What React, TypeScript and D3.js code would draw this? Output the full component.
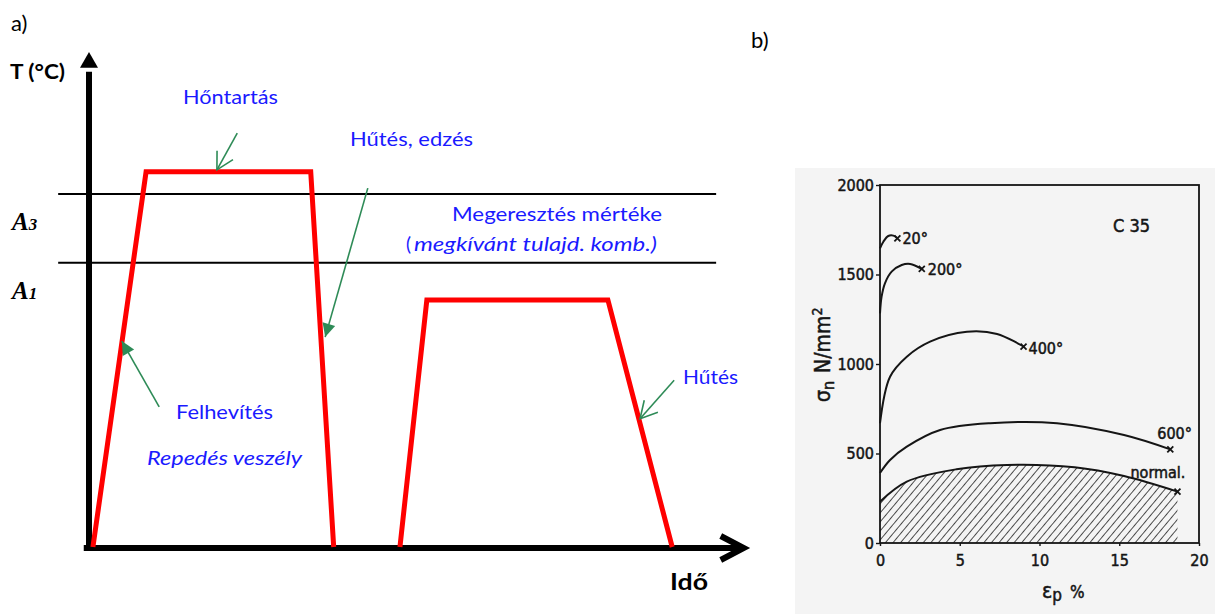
import * as d3 from "d3";
import { useEffect, useRef } from "react";

// panel a: schematic heat-treatment cycle (time / temperature, relative units 0-100)
const quenchCycle = [
  { t: 0.6, T: 0 },
  { t: 8.7, T: 75.8 },
  { t: 33.8, T: 75.8 },
  { t: 37.3, T: 0 },
];
const temperCycle = [
  { t: 47.4, T: 0 },
  { t: 51.5, T: 49.9 },
  { t: 79.1, T: 49.9 },
  { t: 88.9, T: 0 },
];
const criticalTemps = [
  { name: "A", sub: "3", T: 71.3 },
  { name: "A", sub: "1", T: 57.4 },
];
const criticalSpan = [-4.7, 95.6];
const pointers = [
  { from: [22.6, 83.6], to: [19.5, 76.2], head: "open" },
  { from: [42.5, 72.5], to: [36.0, 42.4], head: "filled" },
  { from: [10.7, 28.3], to: [5.0, 41.6], head: "filled" },
  { from: [89.2, 33.7], to: [84.0, 25.9], head: "open" },
];
const labelsA = [
  "Hőntartás",
  "Hűtés, edzés",
  "Megeresztés mértéke",
  "megkívánt tulajd. komb.)",
  "Felhevítés",
  "Repedés veszély",
  "Hűtés",
];

// panel b: C 35 steel, sigma_n vs eps_p for tempering temperatures
const strainTicks = [0, 5, 10, 15, 20];
const stressTicks = [0, 500, 1000, 1500, 2000];
const curve20 = [[0, 1646], [0.21, 1683], [0.52, 1715], [0.84, 1717], [1.09, 1702]];
const curve200 = [[0, 1283], [0.1, 1376], [0.31, 1451], [0.73, 1516], [1.36, 1553], [1.89, 1559], [2.62, 1531]];
const curve400 = [[0, 669], [0.63, 929], [1.68, 1041], [3.14, 1125], [5.45, 1180], [7.34, 1168], [9.0, 1097]];
const curve600 = [[0, 391], [0.63, 464], [1.68, 538], [3.77, 631], [6.9, 669], [11.1, 669], [15.3, 603], [18.2, 523]];
const curveNormal = [[0, 231], [1.68, 343], [4.8, 412], [7.97, 436], [12.2, 423], [15.3, 374], [18.65, 287]];
const seriesLabels = ["20°", "200°", "400°", "600°", "normal."];

export default function App() {
  const ref = useRef<SVGSVGElement>(null);

  useEffect(() => {
    const svg = d3.select(ref.current);
    svg.selectAll("*").remove();

    const blue = "#1a1aff";
    const green = "#2e8b57";
    const red = "#ff0000";
    const sans = "Lato, 'Open Sans', sans-serif";

    // ---------- panel a ----------
    const xA = d3.scaleLinear().domain([0, 100]).range([89, 745]);
    const yA = d3.scaleLinear().domain([0, 100]).range([547, 52]);

    svg.append("text").attr("x", 11).attr("y", 31).attr("font-family", sans)
      .attr("font-size", 22).text("a)");
    svg.append("text").attr("x", 751).attr("y", 48).attr("font-family", sans)
      .attr("font-size", 22).text("b)");

    // critical temperature lines
    svg.append("g").selectAll("line").data(criticalTemps).join("line")
      .attr("x1", xA(criticalSpan[0])).attr("x2", xA(criticalSpan[1]))
      .attr("y1", d => yA(d.T)).attr("y2", d => yA(d.T))
      .attr("stroke", "#000").attr("stroke-width", 2);

    const crit = svg.append("g").selectAll("text").data(criticalTemps).join("text")
      .attr("x", 12).attr("y", d => yA(d.T) + 36)
      .attr("font-family", "'Liberation Serif', 'DejaVu Serif', serif")
      .attr("font-weight", "bold").attr("font-style", "italic").attr("font-size", 25);
    crit.append("tspan").text(d => d.name);
    crit.append("tspan").attr("font-size", 17).text(d => d.sub);

    // axes
    svg.append("line").attr("x1", xA(0)).attr("x2", xA(0))
      .attr("y1", yA(0) + 3).attr("y2", yA(96))
      .attr("stroke", "#000").attr("stroke-width", 6);
    svg.append("path")
      .attr("d", `M${xA(0) - 9},${yA(96.8)}L${xA(0)},${yA(100)}L${xA(0) + 9},${yA(96.8)}Z`)
      .attr("fill", "#000");
    svg.append("line").attr("x1", xA(-0.8)).attr("x2", xA(99.6))
      .attr("y1", yA(0) + 1).attr("y2", yA(0) + 1)
      .attr("stroke", "#000").attr("stroke-width", 6);
    svg.append("path")
      .attr("d", `M${xA(96.3)},${yA(0) - 11}L${xA(99.8)},${yA(0) + 1}L${xA(96.3)},${yA(0) + 13}`)
      .attr("fill", "none").attr("stroke", "#000").attr("stroke-width", 6);

    svg.append("text").attr("x", 10).attr("y", 79).attr("font-family", sans)
      .attr("font-weight", "bold").attr("font-size", 20)
      .attr("textLength", 55).attr("lengthAdjust", "spacingAndGlyphs").text("T (°C)");
    svg.append("text").attr("x", 670).attr("y", 590).attr("font-family", sans)
      .attr("font-weight", "bold").attr("font-size", 22)
      .attr("textLength", 38).attr("lengthAdjust", "spacingAndGlyphs").text("Idő");

    // heat treatment path
    const lineA = d3.line<{ t: number; T: number }>().x(d => xA(d.t)).y(d => yA(d.T));
    svg.append("g").selectAll("path").data([quenchCycle, temperCycle]).join("path")
      .attr("d", d => lineA(d))
      .attr("fill", "none").attr("stroke", red).attr("stroke-width", 5)
      .attr("stroke-linejoin", "miter");

    // pointer arrows
    const arrows = svg.append("g");
    pointers.forEach(p => {
      const x1 = xA(p.from[0]), y1 = yA(p.from[1]);
      const x2 = xA(p.to[0]), y2 = yA(p.to[1]);
      const ang = Math.atan2(y1 - y2, x1 - x2);
      const len = p.head === "open" ? 19 : 15;
      const spread = p.head === "open" ? 0.5 : 0.45;
      const ax = x2 + len * Math.cos(ang - spread), ay = y2 + len * Math.sin(ang - spread);
      const bx = x2 + len * Math.cos(ang + spread), by = y2 + len * Math.sin(ang + spread);
      arrows.append("line").attr("x1", x1).attr("y1", y1).attr("x2", x2).attr("y2", y2)
        .attr("stroke", green).attr("stroke-width", 1.6);
      if (p.head === "open") {
        arrows.append("path").attr("d", `M${ax},${ay}L${x2},${y2}L${bx},${by}`)
          .attr("fill", "none").attr("stroke", green).attr("stroke-width", 1.6);
      } else {
        arrows.append("path").attr("d", `M${ax},${ay}L${x2},${y2}L${bx},${by}Z`)
          .attr("fill", green);
      }
    });

    // blue labels
    const spots = [
      { x: 183, y: 104, w: 95 },
      { x: 350, y: 146, w: 123 },
      { x: 452, y: 221, w: 210 },
      { x: 414, y: 251, w: 243 },
      { x: 176, y: 419, w: 97 },
      { x: 147, y: 465, w: 155 },
      { x: 683, y: 384, w: 55 },
    ];
    labelsA.forEach((txt, i) => {
      const s = spots[i];
      svg.append("text").attr("x", s.x).attr("y", s.y)
        .attr("font-family", sans).attr("font-size", 19).attr("fill", blue)
        .attr("font-style", i === 3 || i === 5 ? "italic" : "normal")
        .attr("textLength", s.w).attr("lengthAdjust", "spacingAndGlyphs")
        .text(txt);
    });
    svg.append("text").attr("x", 406).attr("y", 251).attr("font-family", sans)
      .attr("font-size", 19).attr("fill", blue).text("(");

    // ---------- panel b ----------
    const xB = d3.scaleLinear().domain([0, 20]).range([880, 1199]);
    const yB = d3.scaleLinear().domain([0, 2000]).range([543, 185]);
    const scan = "'DejaVu Sans Condensed', 'DejaVu Sans', sans-serif";
    const ink = "#151515";

    svg.append("rect").attr("x", 795).attr("y", 168).attr("width", 420).attr("height", 446)
      .attr("fill", "#f4f4f4");

    const defs = svg.append("defs");
    const pat = defs.append("pattern").attr("id", "hatch")
      .attr("patternUnits", "userSpaceOnUse").attr("width", 5.8).attr("height", 10)
      .attr("patternTransform", "rotate(40)");
    pat.append("line").attr("x1", 0).attr("y1", 0).attr("x2", 0).attr("y2", 10)
      .attr("stroke", ink).attr("stroke-width", 1.5);

    const area = d3.area<number[]>().x(d => xB(d[0])).y0(yB(0)).y1(d => yB(d[1]))
      .curve(d3.curveCatmullRom);
    svg.append("path").attr("d", area(curveNormal)).attr("fill", "url(#hatch)");

    svg.append("rect").attr("x", xB(0)).attr("y", yB(2000))
      .attr("width", xB(20) - xB(0)).attr("height", yB(0) - yB(2000))
      .attr("fill", "none").attr("stroke", ink).attr("stroke-width", 1.8);

    const yAxis = svg.append("g").attr("transform", `translate(${xB(0)},0)`)
      .call(d3.axisLeft(yB).tickValues(stressTicks).tickSize(4).tickPadding(2)
        .tickFormat(d3.format("d")));
    const xAxis = svg.append("g").attr("transform", `translate(0,${yB(0)})`)
      .call(d3.axisBottom(xB).tickValues(strainTicks).tickSize(3).tickPadding(9)
        .tickFormat(d3.format("d")));
    [yAxis, xAxis].forEach(ax => {
      ax.select(".domain").remove();
      ax.selectAll("line").attr("stroke", ink).attr("stroke-width", 1.4);
      ax.selectAll("text").attr("font-family", scan).attr("font-size", 16).attr("fill", ink)
        .attr("stroke", ink).attr("stroke-width", 0.5);
    });

    const curves = [curve20, curve200, curve400, curve600, curveNormal];
    const lineB = d3.line<number[]>().x(d => xB(d[0])).y(d => yB(d[1]))
      .curve(d3.curveCatmullRom);
    svg.append("g").selectAll("path").data(curves).join("path")
      .attr("d", d => lineB(d))
      .attr("fill", "none").attr("stroke", ink).attr("stroke-width", 2);

    svg.append("g").selectAll("path").data(curves).join("path")
      .attr("transform", d => {
        const last = d[d.length - 1];
        return `translate(${xB(last[0])},${yB(last[1])})`;
      })
      .attr("d", "M-3,-3L3,3M-3,3L3,-3")
      .attr("stroke", ink).attr("stroke-width", 1.8);

    const labelOffsets = [[5, 6], [6, 6], [5, 7], [-13, -10], [-47, -14]];
    svg.append("g").selectAll("text").data(curves).join("text")
      .attr("x", (d, i) => xB(d[d.length - 1][0]) + labelOffsets[i][0])
      .attr("y", (d, i) => yB(d[d.length - 1][1]) + labelOffsets[i][1])
      .attr("font-family", scan).attr("font-size", 16).attr("fill", ink)
      .attr("stroke", ink).attr("stroke-width", 0.5)
      .text((d, i) => seriesLabels[i]);

    svg.append("text").attr("x", 1113).attr("y", 232).attr("font-family", scan)
      .attr("font-size", 18).attr("fill", ink).attr("stroke", ink).attr("stroke-width", 0.5)
      .text("C 35");

    // axis titles
    const xt = svg.append("text").attr("x", 1042).attr("y", 598)
      .attr("font-family", scan).attr("font-size", 21).attr("fill", ink)
      .attr("stroke", ink).attr("stroke-width", 0.5);
    xt.append("tspan").text("ε");
    xt.append("tspan").attr("font-size", 17).attr("dy", 3).text("p");
    xt.append("tspan").attr("dy", -3).attr("dx", 8).attr("font-size", 17).text("%");

    const yt = svg.append("text")
      .attr("transform", "translate(830,402) rotate(-90)")
      .attr("font-family", scan).attr("font-size", 21).attr("fill", ink)
      .attr("stroke", ink).attr("stroke-width", 0.5);
    yt.append("tspan").text("σ");
    yt.append("tspan").attr("font-size", 16).attr("dy", 4).text("n");
    yt.append("tspan").attr("dy", -4).attr("dx", 8).text("N/mm");
    yt.append("tspan").attr("dy", -8).attr("font-size", 14).text("2");
  }, []);

  return (
    <svg
      ref={ref}
      width={1215}
      height={614}
      style={{ position: "absolute", left: 0, top: 0, background: "#fff" }}
    />
  );
}
